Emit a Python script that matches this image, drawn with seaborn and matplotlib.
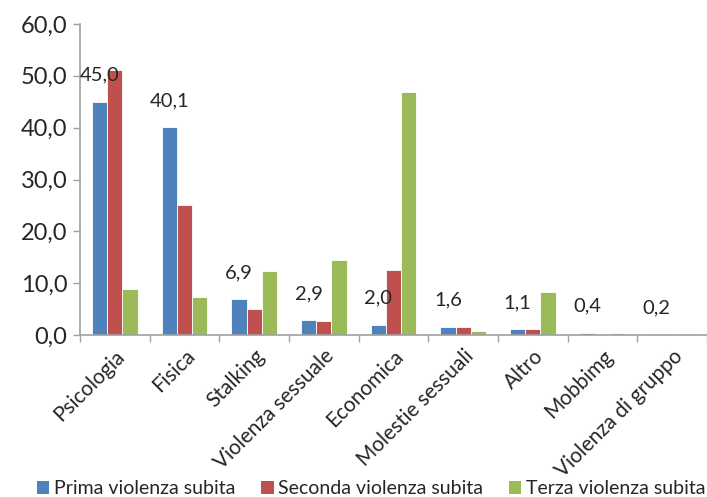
import matplotlib
matplotlib.use("Agg")
import matplotlib.pyplot as plt
import seaborn as sns
import pandas as pd
from matplotlib.patches import Patch
from matplotlib.ticker import FixedLocator, FuncFormatter

categories = ["Psicologia", "Fisica", "Stalking", "Violenza sessuale", "Economica",
              "Molestie sessuali", "Altro", "Mobbimg", "Violenza di gruppo"]
series = ["Prima violenza subita", "Seconda violenza subita", "Terza violenza subita"]
prima = [45.0, 40.1, 6.9, 2.9, 2.0, 1.6, 1.1, 0.4, 0.2]
seconda = [51.2, 25.0, 5.1, 2.7, 12.5, 1.5, 1.2, 0.1, 0.0]
terza = [8.9, 7.3, 12.4, 14.5, 46.8, 0.7, 8.2, 0.3, 0.1]
colors = ["#4F81BD", "#C0504D", "#9BBB59"]

rows = []
for s, vals in zip(series, [prima, seconda, terza]):
    for c, v in zip(categories, vals):
        rows.append({"cat": c, "serie": s, "val": v})
df = pd.DataFrame(rows)

sns.set_theme(style="white")
plt.rcParams["font.family"] = ["Lato", "DejaVu Sans"]

fig = plt.figure(figsize=(7.07, 4.97), dpi=100)
ax = fig.add_axes([80 / 707, 1 - 335 / 497, 1 - 80 / 707, (335 - 24) / 497])

sns.barplot(data=df, x="cat", y="val", hue="serie", order=categories, hue_order=series,
            palette=colors, width=0.66, ax=ax, legend=False, saturation=1,
            edgecolor="white", linewidth=0.6)

ax.set_ylim(0, 60)
ax.set_xlim(-0.5, len(categories) - 0.5)
ax.set_yticks(range(0, 61, 10))
ax.yaxis.set_major_formatter(FuncFormatter(lambda v, p: f"{v:.1f}".replace(".", ",")))
ax.set_xlabel("")
ax.set_ylabel("")

ax.xaxis.set_minor_locator(FixedLocator([i - 0.5 for i in range(len(categories) + 1)]))
ax.tick_params(axis="x", which="major", length=0, pad=8)
ax.tick_params(axis="x", which="minor", length=5, color="#A0A0A0", width=1, direction="out", bottom=True)
ax.tick_params(axis="y", which="major", length=5, color="#A0A0A0", width=1, direction="out", left=True,
               labelsize=17, pad=4)
ax.set_xticks(range(len(categories)))
ax.set_xticklabels(categories, rotation=45, ha="right", rotation_mode="anchor", fontsize=15)

for s in ["top", "right"]:
    ax.spines[s].set_visible(False)
for s in ["left", "bottom"]:
    ax.spines[s].set_color("#A0A0A0")
    ax.spines[s].set_linewidth(1.2)

ax.bar_label(ax.containers[0], labels=[f"{v:.1f}".replace(".", ",") for v in prima],
             padding=13, fontsize=14.5)

handles = [Patch(facecolor=c, edgecolor="none") for c in colors]
fig.legend(handles, series, loc="lower center", bbox_to_anchor=(0.525, -0.035), ncol=3, frameon=False,
           fontsize=14, handlelength=0.65, handleheight=0.65, handletextpad=0.25, columnspacing=1.3)

fig.savefig("out.png", dpi=100)
